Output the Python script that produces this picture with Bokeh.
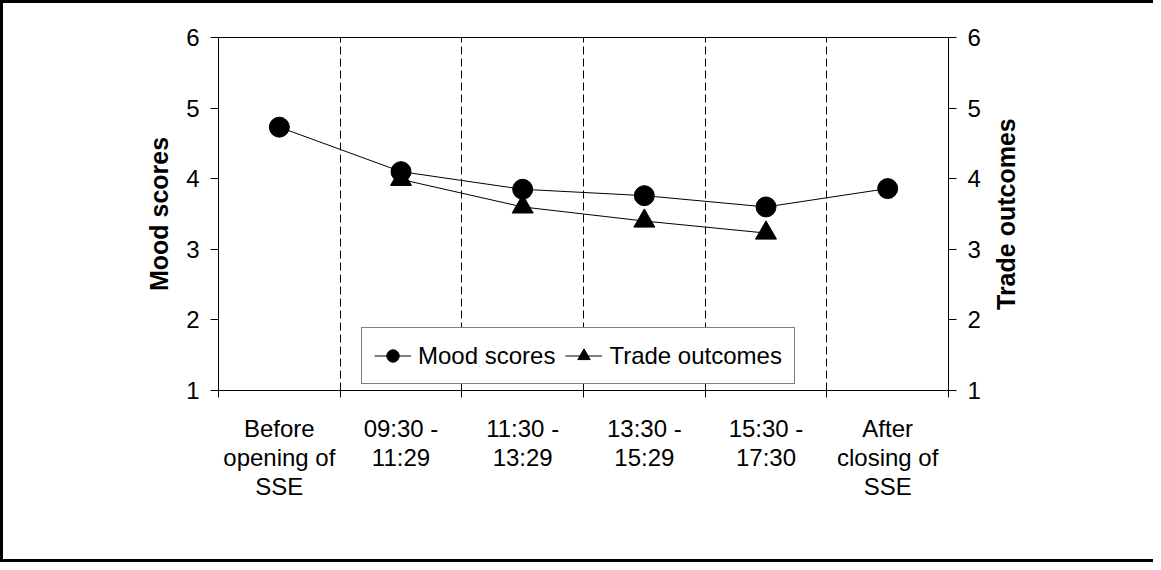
import math
from bokeh.plotting import figure
from bokeh.models import Range1d, LinearAxis, FixedTicker, Legend, LegendItem
from bokeh.embed import file_html
from bokeh.resources import INLINE

categories = ["Before\nopening of\nSSE", "09:30 -\n11:29", "11:30 -\n13:29",
              "13:30 -\n15:29", "15:30 -\n17:30", "After\nclosing of\nSSE"]
mood_scores = [4.73, 4.10, 3.85, 3.76, 3.60, 3.86]
trade_periods = ["09:30 -\n11:29", "11:30 -\n13:29", "13:30 -\n15:29", "15:30 -\n17:30"]
trade_outcomes = [3.99, 3.60, 3.40, 3.23]
y_ticks = [1, 2, 3, 4, 5, 6]

FONT = "Liberation Sans"
FRAME_W, FRAME_H = 730, 353
n = len(categories)
mood_x = list(range(n))
trade_x = [categories.index(c) for c in trade_periods]

p = figure(width=1153, height=562, frame_width=FRAME_W, frame_height=FRAME_H,
           x_range=Range1d(-0.5, n - 0.5),
           y_range=Range1d(y_ticks[0], y_ticks[-1]),
           output_backend="svg", toolbar_location=None,
           min_border_left=218, min_border_right=205,
           min_border_top=37, min_border_bottom=172)
p.border_fill_color = None
p.background_fill_color = "white"
p.outline_line_color = "black"
p.outline_line_width = 1
p.styles = {"box-shadow": "inset 3px 3px 0 0 black, inset 0 -3px 0 0 black",
            "max-height": "562px", "overflow": "hidden"}

# x axis: labels at category centres, tick marks at boundaries
xa = p.xaxis[0]
xa.ticker = FixedTicker(ticks=mood_x, minor_ticks=[i - 0.5 for i in range(n + 1)])
xa.major_label_overrides = {i: c for i, c in enumerate(categories)}
xa.major_tick_line_color = None
xa.major_tick_in = 0
xa.major_tick_out = 7
xa.minor_tick_in = 0
xa.minor_tick_out = 7
xa.minor_tick_line_color = "black"
xa.axis_line_color = "black"
xa.major_label_text_font = FONT
xa.major_label_text_font_size = "24px"
xa.major_label_text_color = "black"
xa.major_label_text_line_height = 1.08
xa.major_label_standoff = 17

# left y axis
ya = p.yaxis[0]
ya.ticker = FixedTicker(ticks=y_ticks)
ya.axis_label = "Mood scores"
ya.axis_label_text_font = FONT
ya.axis_label_text_font_size = "25px"
ya.axis_label_text_font_style = "bold"
ya.axis_label_text_color = "black"
ya.axis_label_standoff = 10

ra = LinearAxis(ticker=FixedTicker(ticks=y_ticks))
p.add_layout(ra, "right")

for ax in (ya, ra):
    ax.major_tick_in = 0
    ax.major_tick_out = 8
    ax.minor_tick_line_color = None
    ax.axis_line_color = "black"
    ax.major_tick_line_color = "black"
    ax.major_label_text_font = FONT
    ax.major_label_text_font_size = "24px"
    ax.major_label_text_color = "black"
    ax.major_label_standoff = 11

# right-hand title: the single label of a bare axis, rotated to read upward.
# The rotated label starts at its tick, so the tick sits half a title length
# below the middle of the range to centre the text.
y_mid = (y_ticks[0] + y_ticks[-1]) / 2
half_title_px = 96
title_at = y_mid - half_title_px * (y_ticks[-1] - y_ticks[0]) / FRAME_H
rt = LinearAxis(ticker=FixedTicker(ticks=[title_at]),
                major_label_overrides={title_at: "Trade outcomes"},
                major_label_orientation=math.pi / 2)
rt.axis_line_color = None
rt.major_tick_line_color = None
rt.minor_tick_line_color = None
rt.major_tick_in = 0
rt.major_tick_out = 0
rt.major_label_standoff = 22
rt.major_label_text_font = FONT
rt.major_label_text_font_size = "25px"
rt.major_label_text_font_style = "bold"
rt.major_label_text_color = "black"
p.add_layout(rt, "right")

# grids
p.ygrid.visible = False
p.xgrid.ticker = FixedTicker(ticks=[i + 0.5 for i in range(n - 1)])
p.xgrid.grid_line_color = "black"
p.xgrid.grid_line_dash = "8 4"
p.xgrid.grid_line_width = 1

mood_line = p.line(mood_x, mood_scores, line_color="black", line_width=1)
mood_pts = p.scatter(mood_x, mood_scores, marker="circle", size=20,
                     fill_color="black", line_color="black")
trade_line = p.line(trade_x, trade_outcomes, line_color="black", line_width=1)
trade_pts = p.scatter(trade_x, trade_outcomes, marker="triangle", size=21,
                      fill_color="black", line_color="black")

legend = Legend(items=[LegendItem(label="Mood scores", renderers=[mood_line, mood_pts]),
                       LegendItem(label="Trade outcomes", renderers=[trade_line, trade_pts])],
                orientation="horizontal", location=(143, 6))
legend.margin = 0
legend.padding = 12
legend.spacing = 10
legend.glyph_width = 37
legend.glyph_height = 31
legend.label_standoff = 7
legend.label_text_font = FONT
legend.label_text_font_size = "24px"
legend.label_text_color = "black"
legend.border_line_color = "black"
legend.border_line_width = 1
legend.background_fill_color = "white"
legend.background_fill_alpha = 1
p.add_layout(legend, "center")

open("out.html", "w").write(file_html(p, INLINE))
